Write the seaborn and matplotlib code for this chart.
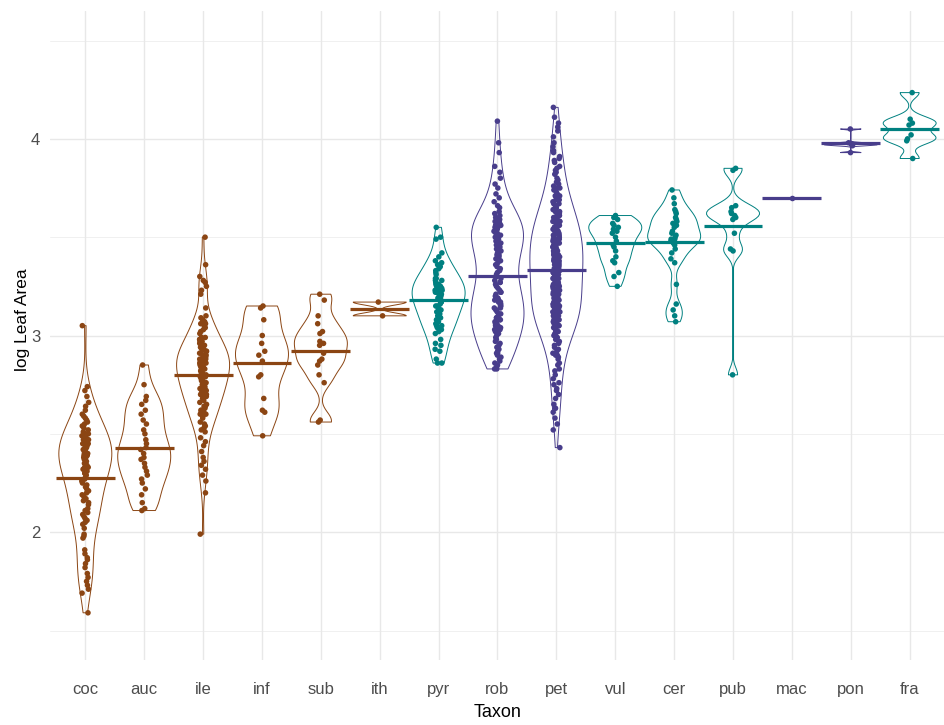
import numpy as np
import pandas as pd
import matplotlib
matplotlib.use("Agg")
import matplotlib.pyplot as plt
import seaborn as sns

# Log leaf area measurements per taxon
taxa = ["coc", "auc", "ile", "inf", "sub", "ith", "pyr", "rob",
        "pet", "vul", "cer", "pub", "mac", "pon", "fra"]

clade = {"coc": "A", "auc": "A", "ile": "A", "inf": "A", "sub": "A", "ith": "A",
         "pyr": "B", "vul": "B", "cer": "B", "pub": "B", "fra": "B",
         "rob": "C", "pet": "C", "mac": "C", "pon": "C"}
clade_colors = {"A": "#8B4513", "B": "#008080", "C": "#483D8B"}

coc = [3.05,
       2.74, 2.72, 2.69, 2.66, 2.64, 2.62, 2.60,
       2.59, 2.58, 2.57, 2.56, 2.55, 2.54, 2.53, 2.52,
       2.51, 2.50, 2.50, 2.49, 2.48, 2.47, 2.47, 2.46, 2.45, 2.45,
       2.44, 2.44, 2.43, 2.43, 2.42, 2.42, 2.41, 2.41, 2.40, 2.40,
       2.39, 2.39, 2.38, 2.38, 2.37, 2.37, 2.36, 2.35, 2.35, 2.34,
       2.33, 2.33, 2.32, 2.31, 2.30, 2.30,
       2.29, 2.28, 2.27, 2.26, 2.25, 2.24, 2.23, 2.22, 2.21, 2.20,
       2.19, 2.18, 2.17, 2.16, 2.15, 2.14, 2.12, 2.11, 2.10, 2.09,
       2.08, 2.07, 2.06, 2.05, 2.04,
       2.02, 1.99, 1.98, 1.97,
       1.91, 1.89, 1.87, 1.86, 1.84, 1.82, 1.79, 1.77, 1.75, 1.73,
       1.71, 1.69,
       1.59]
auc = [2.85, 2.75, 2.69, 2.67, 2.65, 2.62, 2.60, 2.57, 2.55, 2.52,
       2.50, 2.47, 2.45, 2.43, 2.42, 2.40, 2.38, 2.37, 2.35, 2.33,
       2.31, 2.29, 2.27, 2.25, 2.22, 2.19, 2.15, 2.12, 2.11]
ile = [3.50, 3.36, 3.30, 3.28, 3.27, 3.25, 3.23, 3.21, 3.14, 3.10,
       3.09, 3.08, 3.07, 3.06, 3.06, 3.05, 3.04, 3.03, 3.02, 3.01,
       2.99, 2.99, 2.98, 2.98, 2.97, 2.97, 2.96, 2.96, 2.95, 2.95,
       2.94, 2.94, 2.93, 2.93, 2.92, 2.92, 2.91, 2.91, 2.90, 2.90,
       2.89, 2.89, 2.89, 2.88, 2.88, 2.88, 2.87, 2.87, 2.87, 2.86,
       2.86, 2.86, 2.85, 2.85, 2.85, 2.84, 2.84, 2.83, 2.83, 2.83,
       2.82, 2.82, 2.81, 2.81, 2.80, 2.80,
       2.79, 2.79, 2.78, 2.78, 2.77, 2.77, 2.76, 2.76, 2.75, 2.75,
       2.74, 2.74, 2.73, 2.73, 2.72, 2.72, 2.71, 2.71, 2.71, 2.70,
       2.70, 2.70,
       2.69, 2.68, 2.67, 2.66, 2.65, 2.64, 2.64, 2.63, 2.62, 2.62,
       2.61, 2.61, 2.60, 2.60,
       2.59, 2.58, 2.56, 2.55, 2.54, 2.53, 2.52, 2.51,
       2.48, 2.46, 2.44, 2.41,
       2.38, 2.36, 2.34, 2.32,
       2.29, 2.26, 2.20,
       1.99]
inf = [3.15, 3.14, 3.08, 3.00, 2.96, 2.92, 2.90, 2.87, 2.80, 2.79,
       2.68, 2.62, 2.61, 2.49]
sub = [3.21, 3.18, 3.10, 3.06, 3.02, 3.01, 2.97, 2.96, 2.95, 2.91,
       2.88, 2.87, 2.85, 2.80, 2.76, 2.57, 2.56]
ith = [3.17, 3.10]
pyr = [3.55, 3.50, 3.49, 3.42, 3.40, 3.38, 3.37, 3.36, 3.35, 3.34,
       3.33, 3.32, 3.31,
       3.29, 3.29, 3.28, 3.28, 3.27, 3.26, 3.26, 3.25, 3.25, 3.24,
       3.24, 3.23, 3.23, 3.22, 3.22, 3.21, 3.21, 3.20,
       3.19, 3.19, 3.18, 3.17, 3.17, 3.16, 3.15, 3.15, 3.14, 3.13,
       3.13, 3.12, 3.11, 3.10,
       3.09, 3.08, 3.07, 3.06, 3.05, 3.05, 3.04, 3.03, 3.02, 3.01,
       2.98, 2.96, 2.95, 2.93, 2.92,
       2.88, 2.86, 2.86]
rob = [4.09, 3.98, 3.93,
       3.86, 3.83, 3.80,
       3.77, 3.75, 3.72, 3.70,
       3.68, 3.66, 3.65, 3.63, 3.62, 3.61, 3.60,
       3.59, 3.59, 3.58, 3.58, 3.57, 3.57, 3.56, 3.56, 3.56, 3.55,
       3.55, 3.55, 3.54, 3.54, 3.53, 3.53, 3.52, 3.52, 3.51, 3.51,
       3.50, 3.50,
       3.49, 3.48, 3.48, 3.47, 3.46, 3.46, 3.45, 3.44, 3.43, 3.43,
       3.42, 3.41, 3.41, 3.40,
       3.39, 3.38, 3.37, 3.36, 3.35, 3.34, 3.33, 3.32, 3.31, 3.30,
       3.29, 3.28, 3.27, 3.27, 3.26, 3.25, 3.24, 3.23, 3.22, 3.22,
       3.21, 3.20,
       3.19, 3.19, 3.18, 3.18, 3.17, 3.17, 3.16, 3.16, 3.15, 3.15,
       3.14, 3.14, 3.13, 3.13, 3.12, 3.11, 3.10,
       3.09, 3.09, 3.08, 3.08, 3.07, 3.07, 3.06, 3.06, 3.05, 3.05,
       3.04, 3.04, 3.03, 3.03, 3.02, 3.02, 3.01, 3.00,
       2.99, 2.98, 2.97, 2.96, 2.95, 2.94, 2.93, 2.92, 2.91, 2.91,
       2.90,
       2.89, 2.88, 2.87, 2.86, 2.85, 2.84, 2.83, 2.83]
pet = [4.16, 4.11,
       4.08, 4.06, 4.04, 4.01,
       3.98, 3.96, 3.94, 3.93, 3.91, 3.90,
       3.89, 3.88, 3.86, 3.85, 3.84, 3.83, 3.82, 3.80,
       3.79, 3.78, 3.77, 3.76, 3.75, 3.75, 3.74, 3.73, 3.72, 3.71,
       3.71, 3.70,
       3.69, 3.69, 3.68, 3.67, 3.67, 3.66, 3.65, 3.65, 3.64, 3.64,
       3.63, 3.63, 3.62, 3.62, 3.61, 3.61, 3.60, 3.60,
       3.59, 3.59, 3.58, 3.58, 3.58, 3.57, 3.57, 3.57, 3.56, 3.56,
       3.55, 3.55, 3.55, 3.54, 3.54, 3.54, 3.53, 3.53, 3.53, 3.52,
       3.52, 3.52, 3.51, 3.51, 3.50, 3.50,
       3.49, 3.49, 3.49, 3.48, 3.48, 3.48, 3.47, 3.47, 3.47, 3.46,
       3.46, 3.46, 3.45, 3.45, 3.45, 3.44, 3.44, 3.44, 3.43, 3.43,
       3.43, 3.42, 3.42, 3.42, 3.41, 3.41, 3.41, 3.40, 3.40, 3.40,
       3.39, 3.39, 3.39, 3.38, 3.38, 3.38, 3.37, 3.37, 3.37, 3.36,
       3.36, 3.36, 3.35, 3.35, 3.34, 3.34, 3.34, 3.33, 3.33, 3.33,
       3.32, 3.32, 3.32, 3.31, 3.31, 3.30, 3.30, 3.30,
       3.29, 3.29, 3.29, 3.28, 3.28, 3.28, 3.27, 3.27, 3.26, 3.26,
       3.26, 3.25, 3.25, 3.25, 3.24, 3.24, 3.23, 3.23, 3.23, 3.22,
       3.22, 3.22, 3.21, 3.21, 3.20, 3.20,
       3.19, 3.19, 3.19, 3.18, 3.18, 3.18, 3.17, 3.17, 3.17, 3.16,
       3.16, 3.16, 3.15, 3.15, 3.15, 3.14, 3.14, 3.14, 3.13, 3.13,
       3.13, 3.12, 3.12, 3.12, 3.11, 3.11, 3.10, 3.10,
       3.09, 3.09, 3.09, 3.08, 3.08, 3.08, 3.07, 3.07, 3.06, 3.06,
       3.06, 3.05, 3.05, 3.04, 3.04, 3.04, 3.03, 3.03, 3.02, 3.02,
       3.01, 3.01, 3.00, 3.00,
       2.99, 2.98, 2.97, 2.96, 2.95, 2.94, 2.93, 2.92, 2.91, 2.90,
       2.90, 2.89,
       2.88, 2.86, 2.85, 2.83, 2.82, 2.80,
       2.78, 2.76, 2.75, 2.73, 2.72, 2.70,
       2.68, 2.65, 2.63, 2.61,
       2.58, 2.55, 2.52,
       2.43]
vul = [3.61, 3.60, 3.59, 3.57, 3.56, 3.55, 3.54, 3.53, 3.52, 3.50,
       3.48, 3.46, 3.45, 3.43, 3.40, 3.38, 3.37, 3.32, 3.30, 3.25]
cer = [3.74, 3.70, 3.67, 3.64, 3.63, 3.62, 3.60, 3.59, 3.58, 3.57,
       3.56, 3.55, 3.53, 3.52, 3.51, 3.50, 3.49, 3.49, 3.48, 3.47,
       3.46, 3.44, 3.42, 3.39, 3.37, 3.26, 3.16, 3.13, 3.10, 3.07]
pub = [3.85, 3.84, 3.66, 3.65, 3.63, 3.62, 3.61, 3.60, 3.59, 3.52,
       3.44, 3.43, 2.80]
mac = [3.70]
pon = [4.05, 3.98, 3.975, 3.97, 3.97, 3.965, 3.93]
fra = [4.235, 4.10, 4.08, 4.07, 4.02, 4.00, 3.99, 3.90]

values = {"coc": coc, "auc": auc, "ile": ile, "inf": inf, "sub": sub,
          "ith": ith, "pyr": pyr, "rob": rob, "pet": pet, "vul": vul,
          "cer": cer, "pub": pub, "mac": mac, "pon": pon, "fra": fra}

df = pd.DataFrame([(t, v) for t in taxa for v in values[t]],
                  columns=["Taxon", "logLA"])
df["Taxon"] = pd.Categorical(df["Taxon"], categories=taxa, ordered=True)
palette = {t: clade_colors[clade[t]] for t in taxa}


def nrd0(kde):
    """Silverman-type bandwidth (R's bw.nrd0), a little tighter for small groups."""
    x = np.asarray(kde.dataset).ravel()
    n = len(x)
    sd = np.std(x, ddof=1)
    q75, q25 = np.percentile(x, [75, 25])
    lo = min(sd, (q75 - q25) / 1.34)
    if lo <= 0:
        lo = sd if sd > 0 else 1.0
    bw = 0.9 * lo * n ** (-0.2)
    if n < 50:
        bw *= 0.7
    return bw / sd if sd > 0 else 1.0


sns.set_theme(style="white")
plt.rcParams["font.family"] = ["Liberation Sans", "DejaVu Sans"]

fig = plt.figure(figsize=(9.45, 7.25), dpi=100)
ax = fig.add_axes([50 / 945, 65 / 725, 895 / 945, 649 / 725])

# light grid in the style of a minimal theme
for y in [1.5, 2.5, 3.5, 4.5]:
    ax.axhline(y, color="#F0F0F0", lw=0.7, zorder=0)
for y in [2, 3, 4]:
    ax.axhline(y, color="#E8E8E8", lw=1.0, zorder=0)
for i in range(len(taxa)):
    ax.axvline(i, color="#E8E8E8", lw=1.0, zorder=0)

sns.violinplot(data=df, x="Taxon", y="logLA", hue="Taxon", order=taxa,
               hue_order=taxa, palette=palette, fill=False, inner=None,
               density_norm="width", cut=0, width=0.9, linewidth=0.7,
               bw_method=nrd0, legend=False, ax=ax)

np.random.seed(7)
sns.stripplot(data=df, x="Taxon", y="logLA", hue="Taxon", order=taxa,
              hue_order=taxa, palette=palette, jitter=0.06, size=4.0,
              linewidth=0, legend=False, ax=ax, zorder=3)

# group means as horizontal bars
means = df.groupby("Taxon", observed=True)["logLA"].mean()
for i, t in enumerate(taxa):
    ax.hlines(means[t], i - 0.5, i + 0.5, color=palette[t], lw=2.3, zorder=4)

ax.set_xlim(-0.6, len(taxa) - 0.4)
ax.set_ylim(1.35, 4.65)
ax.set_yticks([2, 3, 4])
ax.set_yticklabels(["2", "3", "4"])
for s in ax.spines.values():
    s.set_visible(False)
ax.tick_params(axis="both", length=0, labelsize=12, labelcolor="#4D4D4D")
ax.tick_params(axis="x", pad=16)
ax.tick_params(axis="y", pad=7)
ax.set_xlabel("Taxon", fontsize=13, color="black")
ax.set_ylabel("log Leaf Area", fontsize=12.5, color="black")
ax.xaxis.set_label_coords(0.5, -0.068)
ax.yaxis.set_label_coords(-0.022, 0.525)

fig.savefig("out.png", dpi=100)
